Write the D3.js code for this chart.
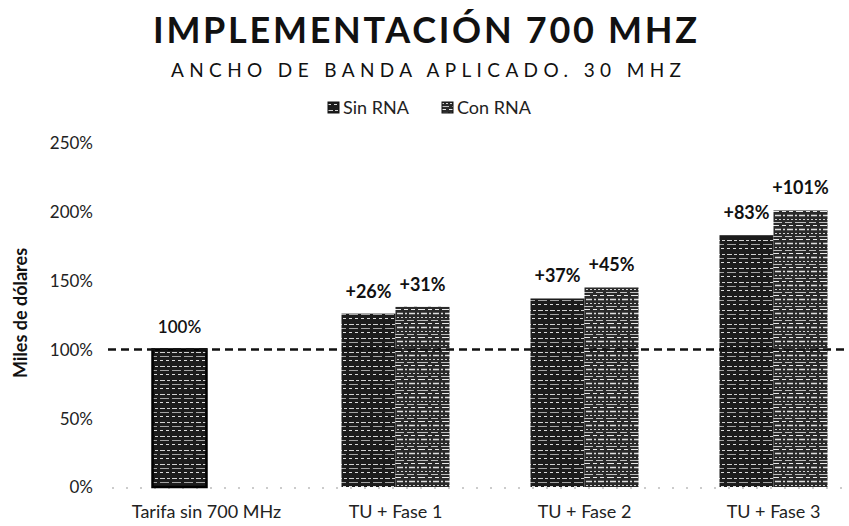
<!DOCTYPE html>
<html>
<head>
<meta charset="utf-8">
<script src="https://cdn.jsdelivr.net/npm/d3@7"></script>
<style>
  body { margin: 0; background: #fff; }
  text { font-family: Lato, "Open Sans", sans-serif; fill: #111; }
</style>
</head>
<body>
<div id="chart"></div>
<script>
// data
var categories = ["Tarifa sin 700 MHz", "TU + Fase 1", "TU + Fase 2", "TU + Fase 3"];
var seriesNames = ["Sin RNA", "Con RNA"];
var sinRNA = [1.00, 1.26, 1.37, 1.83];
var conRNA = [null, 1.31, 1.45, 2.01];
var sinLabels = ["100%", "+26%", "+37%", "+83%"];
var conLabels = [null, "+31%", "+45%", "+101%"];
var yTicks = [0, 0.5, 1, 1.5, 2, 2.5];
var refLine = 1.0;

// svg params
var svgWidth = 849;
var svgHeight = 526;

var svg = d3.select("#chart")
  .append("svg")
  .attr("width", svgWidth)
  .attr("height", svgHeight);

// textures for the scanned-looking bars
var defs = svg.append("defs");

function makeTexture(id, base, lines) {
  var p = defs.append("pattern")
    .attr("id", id)
    .attr("patternUnits", "userSpaceOnUse")
    .attr("width", 24)
    .attr("height", 14);
  p.append("rect").attr("width", 24).attr("height", 14).attr("fill", base);
  lines.forEach(function(l) {
    p.append("line")
      .attr("x1", 0).attr("x2", 24)
      .attr("y1", l.y).attr("y2", l.y)
      .attr("stroke", "#fff")
      .attr("stroke-width", l.w)
      .attr("stroke-dasharray", l.dash)
      .attr("opacity", l.o);
  });
}

makeTexture("texSin", "#1c1c1c", [
  {y: 2.5, w: 1, dash: "5 2 3 2", o: 0.8},
  {y: 6.5, w: 1, dash: "9 3", o: 0.6},
  {y: 10.5, w: 1.2, dash: "3 3", o: 0.85}
]);
makeTexture("texCon", "#2a2a2a", [
  {y: 1.5, w: 1, dash: "4 3", o: 0.9},
  {y: 5.5, w: 1.3, dash: "6 2 2 2", o: 0.85},
  {y: 9.5, w: 1, dash: "2 2", o: 0.8},
  {y: 12.5, w: 1, dash: "7 3", o: 0.7}
]);

var fills = ["url(#texSin)", "url(#texCon)"];

// scales
var x0 = d3.scaleBand()
  .domain(categories)
  .range([112, 868]);

var x1 = d3.scaleBand()
  .domain(seriesNames)
  .range([0, x0.bandwidth()])
  .paddingInner(0)
  .paddingOuter(0.75);

var y = d3.scaleLinear()
  .domain([0, 2.5])
  .range([487, 143]);

// y axis labels only
var yAxis = d3.axisLeft(y)
  .tickValues(yTicks)
  .tickFormat(d3.format(".0%"))
  .tickSize(0)
  .tickPadding(0);

svg.append("g")
  .attr("transform", "translate(93,0)")
  .call(yAxis)
  .call(function(g) { g.select(".domain").remove(); })
  .selectAll("text")
  .attr("dy", "0.35em")
  .style("font-size", "17px")
  .style("fill", "#222");

// faint baseline
svg.append("line")
  .attr("x1", 112).attr("x2", 849)
  .attr("y1", y(0) + 1).attr("y2", y(0) + 1)
  .attr("stroke", "#999")
  .attr("stroke-width", 1.2)
  .attr("stroke-dasharray", "2 12");

// bars
var rows = categories.map(function(c, i) {
  return {cat: c, values: [
    {name: seriesNames[0], v: sinRNA[i], label: sinLabels[i], s: 0},
    {name: seriesNames[1], v: conRNA[i], label: conLabels[i], s: 1}
  ].filter(function(d) { return d.v !== null; })};
});

var groups = svg.selectAll(".grp")
  .data(rows)
  .enter()
  .append("g")
  .attr("class", "grp")
  .attr("transform", function(d) { return "translate(" + x0(d.cat) + ",0)"; });

groups.selectAll("rect")
  .data(function(d) { return d.values; })
  .enter()
  .append("rect")
  .attr("x", function(d) { return x1(d.name); })
  .attr("y", function(d) { return y(d.v); })
  .attr("width", x1.bandwidth())
  .attr("height", function(d) { return y(0) - y(d.v); })
  .attr("fill", function(d) { return fills[d.s]; })
  .attr("stroke", function(d, i, n) { return n.length === 1 ? "#000" : "none"; })
  .attr("stroke-width", 2.5);

// value labels
groups.selectAll(".val")
  .data(function(d) { return d.values; })
  .enter()
  .append("text")
  .attr("class", "val")
  .attr("x", function(d) { return x1(d.name) + x1.bandwidth() / 2; })
  .attr("y", function(d) { return y(d.v) - 16; })
  .attr("text-anchor", "middle")
  .style("font-size", function(d) { return d.label === "100%" ? "17px" : "18px"; })
  .style("font-weight", function(d) { return d.label === "100%" ? 600 : 700; })
  .text(function(d) { return d.label; });

// dashed 100% line
svg.append("line")
  .attr("x1", 108).attr("x2", 849)
  .attr("y1", y(refLine)).attr("y2", y(refLine))
  .attr("stroke", "#111")
  .attr("stroke-width", 2.5)
  .attr("stroke-dasharray", "8 5");

// x labels
svg.selectAll(".xlab")
  .data(categories)
  .enter()
  .append("text")
  .attr("class", "xlab")
  .attr("x", function(d) { return x0(d) + x0.bandwidth() / 2; })
  .attr("y", 518)
  .attr("text-anchor", "middle")
  .style("font-size", "18px")
  .style("fill", "#222")
  .text(function(d) { return d; });

// y title
svg.append("text")
  .attr("transform", "translate(27,313) rotate(-90)")
  .attr("text-anchor", "middle")
  .style("font-size", "18px")
  .style("font-weight", 700)
  .text("Miles de dólares");

// titles
svg.append("text")
  .attr("x", 153)
  .attr("y", 43)
  .attr("textLength", 544)
  .attr("lengthAdjust", "spacing")
  .style("font-size", "36px")
  .style("font-weight", 700)
  .text("IMPLEMENTACIÓN 700 MHZ");

svg.append("text")
  .attr("x", 171)
  .attr("y", 77)
  .attr("textLength", 510)
  .attr("lengthAdjust", "spacing")
  .style("font-size", "19px")
  .text("ANCHO DE BANDA APLICADO. 30 MHZ");

// legend
var legend = svg.append("g")
  .attr("transform", "translate(328,108)");

var legItems = legend.selectAll("g")
  .data(seriesNames)
  .enter()
  .append("g")
  .attr("transform", function(d, i) { return "translate(" + (i * 114) + ",0)"; });

legItems.append("rect")
  .attr("x", 0).attr("y", -6)
  .attr("width", 11).attr("height", 11)
  .attr("fill", function(d, i) { return fills[i]; })
  .attr("stroke", "#111")
  .attr("stroke-width", 1);

legItems.append("text")
  .attr("x", 15)
  .attr("dy", "0.35em")
  .style("font-size", "18px")
  .style("fill", "#222")
  .text(function(d) { return d; });
</script>
</body>
</html>
